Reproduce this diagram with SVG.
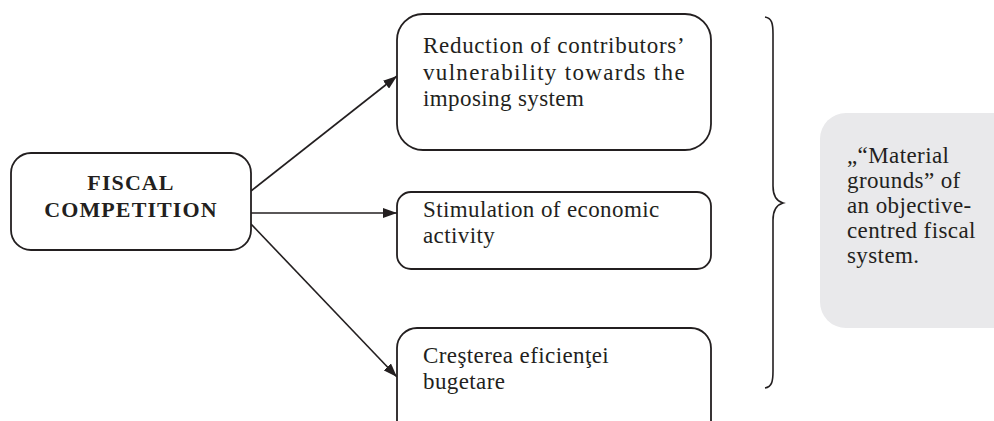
<svg xmlns="http://www.w3.org/2000/svg" width="994" height="421" viewBox="0 0 994 421">
<defs>
<style>
.box{fill:#fff;stroke:#231f20;stroke-width:1.8}
.t{font-family:"Liberation Serif","Times New Roman",serif;font-size:23px;fill:#231f20;letter-spacing:0.4px}
.b{font-family:"Liberation Serif","Times New Roman",serif;font-size:22px;font-weight:bold;fill:#231f20;letter-spacing:1.1px}
.c{stroke:#231f20;stroke-width:1.6;fill:none}
</style>
<marker id="ah" viewBox="0 0 14 10" refX="14" refY="5" markerWidth="14" markerHeight="10" markerUnits="userSpaceOnUse" orient="auto">
<path d="M0,0 L14,5 L0,10 Z" fill="#231f20"/>
</marker>
</defs>
<rect width="994" height="421" fill="#fff"/>
<g id="connectors">
<line class="c" x1="251" y1="191" x2="397" y2="76" marker-end="url(#ah)"/>
<line class="c" x1="251" y1="213" x2="397" y2="213" marker-end="url(#ah)"/>
<line class="c" x1="251" y1="224" x2="397" y2="377" marker-end="url(#ah)"/>
</g>
<g id="fiscal">
<rect class="box" x="11" y="153" width="240" height="97" rx="20"/>
<text class="b" x="131" y="190" text-anchor="middle">FISCAL</text>
<text class="b" x="131" y="217" text-anchor="middle">COMPETITION</text>
</g>
<g id="reduction">
<rect class="box" x="397" y="14" width="314" height="136" rx="26"/>
<text class="t" x="423" y="53" textLength="262" lengthAdjust="spacing">Reduction of contributors’</text>
<text class="t" x="423" y="80" textLength="262" lengthAdjust="spacing">vulnerability towards the</text>
<text class="t" x="423" y="106">imposing system</text>
</g>
<g id="stimulation">
<rect class="box" x="397" y="192" width="314" height="77" rx="14"/>
<text class="t" x="423" y="217">Stimulation of economic</text>
<text class="t" x="423" y="243">activity</text>
</g>
<g id="crestere">
<rect class="box" x="397" y="328" width="314" height="120" rx="20"/>
<text class="t" x="423" y="363">Creşterea eficienţei</text>
<text class="t" x="423" y="389">bugetare</text>
</g>
<g id="brace">
<path class="c" d="M765,17 C772,18 773,24 773,34 L773,186 C773,196 776,201 783,203 C776,205 773,210 773,220 L773,371 C773,381 772,387 765,388"/>
</g>
<g id="grounds">
<rect x="820" y="113" width="200" height="215" rx="26" fill="#e9e9eb"/>
<text class="t" x="847" y="163">„“Material</text>
<text class="t" x="847" y="188">grounds” of</text>
<text class="t" x="847" y="213">an objective-</text>
<text class="t" x="847" y="238">centred fiscal</text>
<text class="t" x="847" y="263">system.</text>
</g>
</svg>
